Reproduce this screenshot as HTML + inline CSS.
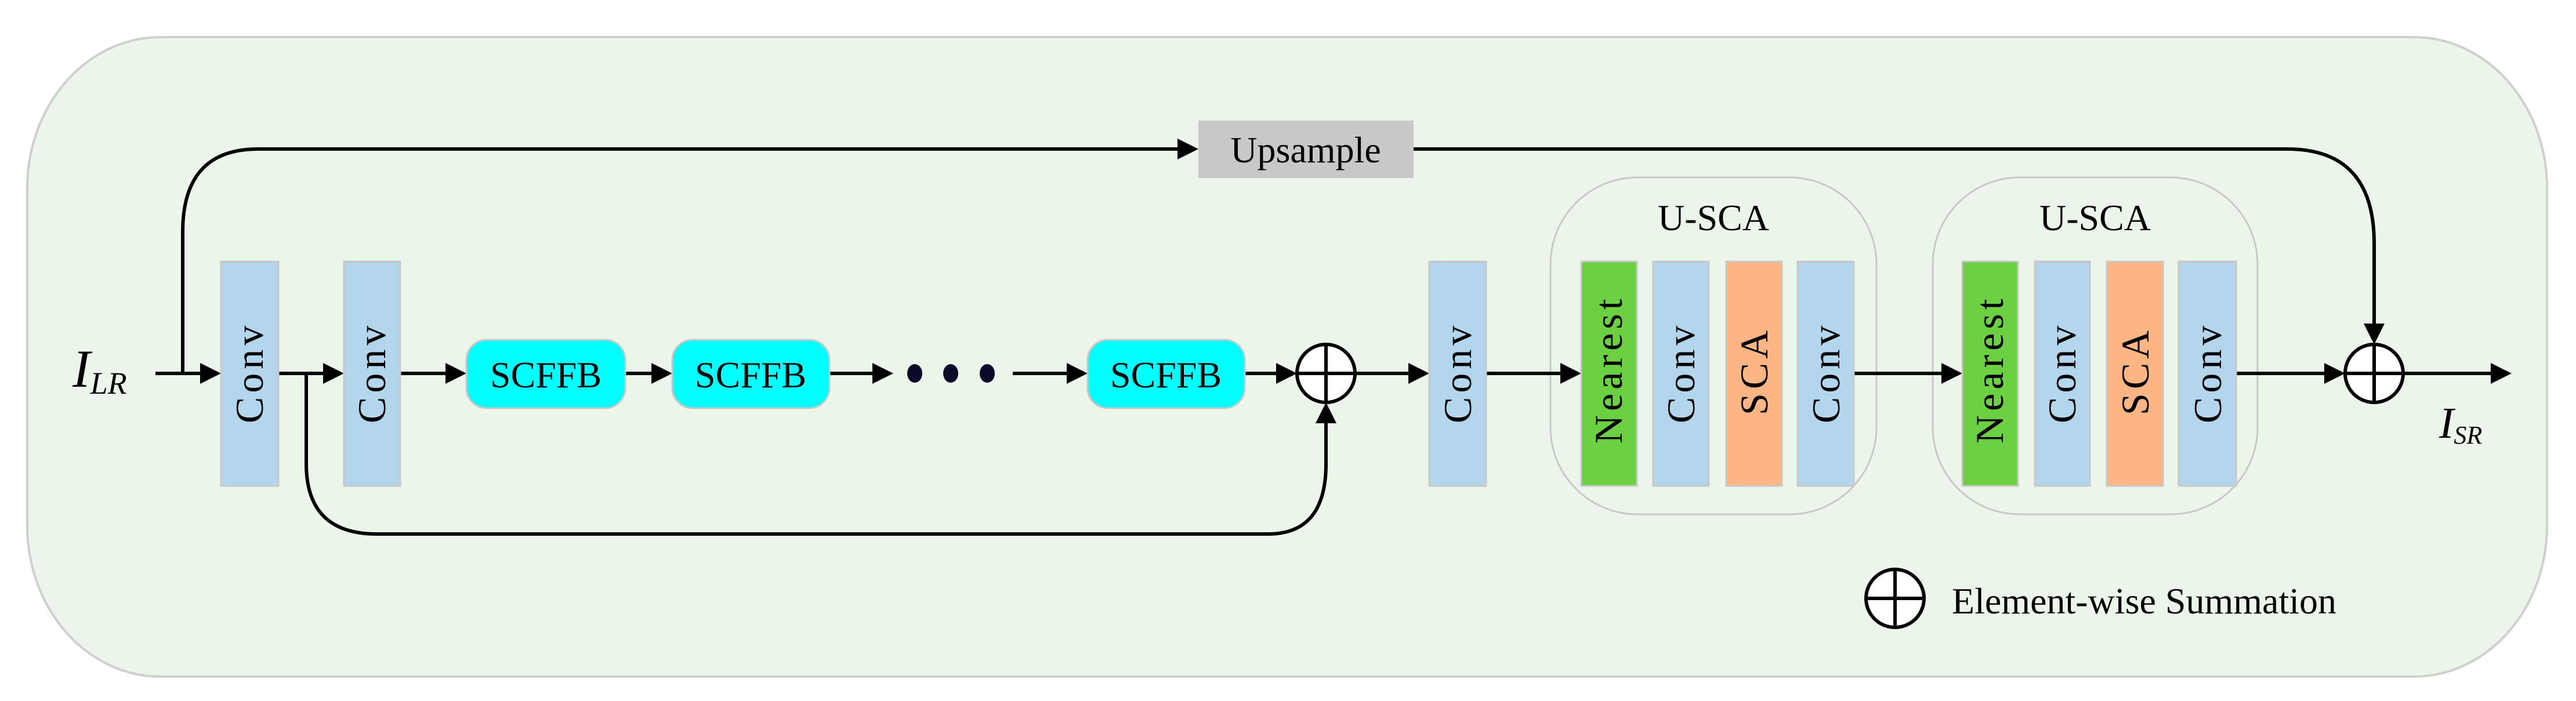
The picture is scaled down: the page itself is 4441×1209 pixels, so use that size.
<!DOCTYPE html>
<html><head><meta charset="utf-8"><style>
html,body{margin:0;padding:0;background:#fff}
svg{display:block}
text{font-family:"Liberation Serif",serif}
</style></head><body>
<svg width="4441" height="1209" viewBox="0 0 4441 1209" xmlns="http://www.w3.org/2000/svg">
<rect x="47" y="64" width="4344" height="1103" rx="230" ry="260" fill="#ECF5E9" stroke="#cfcfcf" stroke-width="4"/>
<rect x="2673" y="306" width="562" height="581" rx="150" ry="150" fill="#ECF5E9" stroke="#c8c8c8" stroke-width="3"/>
<rect x="3332" y="306" width="560" height="581" rx="150" ry="150" fill="#ECF5E9" stroke="#c8c8c8" stroke-width="3"/>
<text x="2954" y="397" font-size="64" text-anchor="middle">U-SCA</text>
<text x="3612" y="397" font-size="64" text-anchor="middle">U-SCA</text>

<g stroke="#000" stroke-width="6" fill="none">
<line x1="268" y1="644" x2="350" y2="644"/>
<line x1="480" y1="644" x2="563" y2="644"/>
<line x1="690" y1="644" x2="774" y2="644"/>
<line x1="1078" y1="644" x2="1129" y2="644"/>
<line x1="1430" y1="644" x2="1510" y2="644"/>
<line x1="1746" y1="644" x2="1845" y2="644"/>
<line x1="2146" y1="644" x2="2206" y2="644"/>
<line x1="2336" y1="644" x2="2434" y2="644"/>
<line x1="2562" y1="644" x2="2696" y2="644"/>
<line x1="3196" y1="644" x2="3353" y2="644"/>
<line x1="3855" y1="644" x2="4013" y2="644"/>
<line x1="4143" y1="644" x2="4300" y2="644"/>
<path d="M315 644 V400 Q315 257 445 257 H2036"/>
<path d="M2437 257 H3943 Q4093 257 4093 420 V564"/>
<path d="M528 644 V800 Q528 921 650 921 H2186 Q2286 921 2286 800 V724"/>
<circle cx="2286" cy="644" r="50" fill="#fff"/>
<line x1="2236" y1="644" x2="2336" y2="644"/>
<line x1="2286" y1="594" x2="2286" y2="694"/>
<circle cx="4093" cy="644" r="50" fill="#fff"/>
<line x1="4043" y1="644" x2="4143" y2="644"/>
<line x1="4093" y1="594" x2="4093" y2="694"/>
<circle cx="3267" cy="1032" r="50" fill="#fff"/>
<line x1="3217" y1="1032" x2="3317" y2="1032"/>
<line x1="3267" y1="982" x2="3267" y2="1082"/>
</g>
<g fill="#000">
<polygon points="381,644 345,626 345,662"/>
<polygon points="593,644 557,626 557,662"/>
<polygon points="804,644 768,626 768,662"/>
<polygon points="1159,644 1123,626 1123,662"/>
<polygon points="1540,644 1504,626 1504,662"/>
<polygon points="1875,644 1839,626 1839,662"/>
<polygon points="2236,644 2200,626 2200,662"/>
<polygon points="2464,644 2428,626 2428,662"/>
<polygon points="2726,644 2690,626 2690,662"/>
<polygon points="3383,644 3347,626 3347,662"/>
<polygon points="4043,644 4007,626 4007,662"/>
<polygon points="4330,644 4294,626 4294,662"/>
<polygon points="2066,257 2030,239 2030,275"/>
<polygon points="4093,594 4075,558 4111,558"/>
<polygon points="2286,694 2268,730 2304,730"/>
<ellipse cx="1577" cy="644" rx="13" ry="16" fill="#0a0a2a"/>
<ellipse cx="1639" cy="644" rx="13" ry="16" fill="#0a0a2a"/>
<ellipse cx="1702" cy="644" rx="13" ry="16" fill="#0a0a2a"/>
</g>
<rect x="2066" y="208" width="371" height="99" fill="#c8c8c8"/>
<text x="2251" y="280" font-size="64" text-anchor="middle">Upsample</text>
<g fill="#00FFFF" stroke="#c8c8c8" stroke-width="3">
<rect x="804" y="586" width="274" height="118" rx="35"/>
<rect x="1159" y="586" width="271" height="118" rx="35"/>
<rect x="1875" y="586" width="271" height="118" rx="35"/>
</g>
<g font-size="64" text-anchor="middle">
<text x="941" y="668">SCFFB</text>
<text x="1294" y="668">SCFFB</text>
<text x="2010" y="668">SCFFB</text>
</g>
<g stroke="#c8c8c8" stroke-width="3">
<rect x="381" y="451" width="99" height="387" fill="#B4D6ED"/>
<rect x="593" y="451" width="97" height="387" fill="#B4D6ED"/>
<rect x="2464" y="451" width="98" height="387" fill="#B4D6ED"/>
<rect x="2726" y="451" width="96" height="387" fill="#6CD043"/>
<rect x="2850" y="451" width="96" height="387" fill="#B4D6ED"/>
<rect x="2976" y="451" width="96" height="387" fill="#FDB584"/>
<rect x="3099" y="451" width="97" height="387" fill="#B4D6ED"/>
<rect x="3383" y="451" width="96" height="387" fill="#6CD043"/>
<rect x="3508" y="451" width="95" height="387" fill="#B4D6ED"/>
<rect x="3632" y="451" width="97" height="387" fill="#FDB584"/>
<rect x="3756" y="451" width="99" height="387" fill="#B4D6ED"/>
</g>
<g font-size="68" letter-spacing="7">
<text transform="translate(453,730) rotate(-90)">Conv</text>
<text transform="translate(664,730) rotate(-90)">Conv</text>
<text transform="translate(2536,730) rotate(-90)">Conv</text>
<text transform="translate(2796,765) rotate(-90)">Nearest</text>
<text transform="translate(2921,730) rotate(-90)">Conv</text>
<text transform="translate(3047,716) rotate(-90)">SCA</text>
<text transform="translate(3171,730) rotate(-90)">Conv</text>
<text transform="translate(3453,765) rotate(-90)">Nearest</text>
<text transform="translate(3578,730) rotate(-90)">Conv</text>
<text transform="translate(3704,716) rotate(-90)">SCA</text>
<text transform="translate(3829,730) rotate(-90)">Conv</text>
</g>
<text x="125" y="667" font-size="92" font-style="italic">I<tspan font-size="54" dy="12">LR</tspan></text>
<text x="4205" y="755" font-size="76" font-style="italic">I<tspan font-size="44" dy="10">SR</tspan></text>
<text x="3365" y="1058" font-size="64">Element-wise Summation</text>
</svg>
</body></html>
